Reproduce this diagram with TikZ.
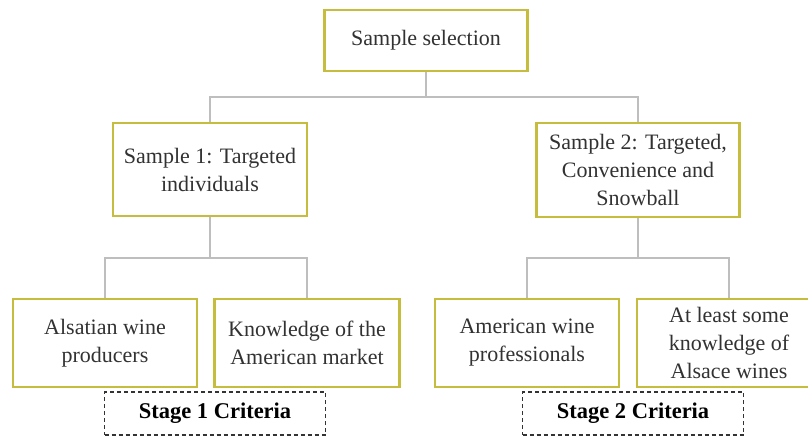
\documentclass[tikz,border=0pt]{standalone}
\usepackage{fontspec}
\setmainfont{Liberation Serif}
\usetikzlibrary{backgrounds}
\definecolor{boxline}{RGB}{198,188,62}
\definecolor{linkgray}{RGB}{190,190,190}
\definecolor{inkgray}{RGB}{50,50,50}
\begin{document}
\begin{tikzpicture}[x=1pt,y=-1pt,
  card/.style={draw=boxline, line width=2.6pt, fill=white, align=center,
    inner sep=0pt, text=inkgray,
    font=\fontsize{22}{28}\selectfont},
  stagebox/.style={draw=black!80, line width=1.1pt, dash pattern=on 4pt off 3pt,
    align=center, inner sep=0pt, minimum width=221pt, minimum height=43pt,
    font=\fontsize{22.5}{28}\selectfont\bfseries},
  link/.style={draw=linkgray, line width=2.4pt}]
\clip (0,0) rectangle (808,436);

% junction points of the tree
\coordinate (j0) at (426,97);
\coordinate (j1) at (210,258);
\coordinate (j2) at (638,258);

% boxes
\node[card, minimum width=203pt, minimum height=61pt] (top) at (426,40.5) {\raisebox{-3pt}{Sample selection}};
\node[card, minimum width=194pt, minimum height=93pt] (s1) at (210,169.5) {Sample 1: Targeted\\individuals};
\node[card, minimum width=203pt, minimum height=94pt] (s2) at (638,170) {Sample 2: Targeted,\\Convenience and\\Snowball};
\node[card, minimum width=184pt, minimum height=88pt] (a) at (105,343) {Alsatian wine\\producers};
\node[card, minimum width=185pt, minimum height=88pt] (b) at (307,343) {Knowledge of the\\American market};
\node[card, minimum width=184pt, minimum height=88pt] (c) at (527,343) {American wine\\professionals};
\node[card, minimum width=184pt, minimum height=88pt] (d) at (729,343) {At least some\\knowledge of\\Alsace wines};

% criteria labels
\node[stagebox] (st1) at (215,413.5) {Stage 1 Criteria};
\node[stagebox] (st2) at (633,413.5) {Stage 2 Criteria};

% connectors, kept behind the boxes
\begin{scope}[on background layer]
\path[link] (top.south) -- (j0);
\path[link] (s1.north) |- (j0) -| (s2.north);
\path[link] (s1.south) -- (j1);
\path[link] (a.north) |- (j1) -| (b.north);
\path[link] (s2.south) -- (j2);
\path[link] (c.north) |- (j2) -| (d.north);
\end{scope}
\end{tikzpicture}
\end{document}
